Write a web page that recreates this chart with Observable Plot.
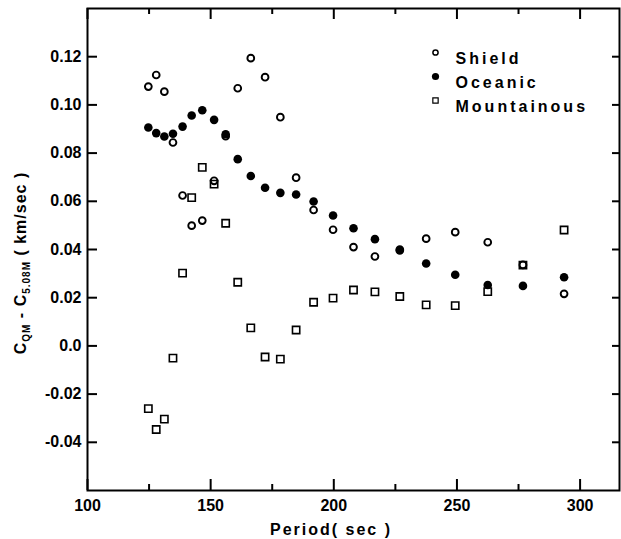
<!DOCTYPE html>
<html><head><meta charset="utf-8">
<script src="https://cdn.jsdelivr.net/npm/d3@7"></script>
<script src="https://cdn.jsdelivr.net/npm/@observablehq/plot@0.6"></script>
<style>
body{margin:0;background:#fff}
#chart{width:621px;height:539px}
#chart svg{background:#fff}
</style>
</head><body><div id="chart"></div>
<script>
// Period (sec) at which each regional difference was measured
const periods = [124.7, 127.9, 131.2, 134.7, 138.6, 142.3, 146.6, 151.4, 156.1, 161.0, 166.3, 172.1,
                 178.3, 184.7, 191.8, 199.7, 208.0, 216.7, 226.8, 237.5, 249.3, 262.5, 276.8, 293.5];
// C_QM - C_5.08M (km/sec)
const shield = [0.1076, 0.1124, 0.1055, 0.0844, 0.0624, 0.0499, 0.0520, 0.0685, 0.0870, 0.1069, 0.1194, 0.1115,
                0.0949, 0.0698, 0.0564, 0.0482, 0.0410, 0.0371, 0.0400, 0.0445, 0.0472, 0.0430, 0.0336, 0.0216];
const oceanic = [0.0906, 0.0883, 0.0869, 0.0880, 0.0910, 0.0956, 0.0978, 0.0938, 0.0878, 0.0775, 0.0705, 0.0656,
                 0.0635, 0.0628, 0.0599, 0.0541, 0.0488, 0.0443, 0.0396, 0.0342, 0.0295, 0.0253, 0.0249, 0.0285];
const mountainous = [-0.0260, -0.0347, -0.0304, -0.0051, 0.0302, 0.0615, 0.0741, 0.0671, 0.0509, 0.0264, 0.0075, -0.0046,
                     -0.0055, 0.0066, 0.0181, 0.0198, 0.0232, 0.0224, 0.0205, 0.0170, 0.0167, 0.0225, 0.0335, 0.0481];

const xMajor = [100, 150, 200, 250, 300];
const xMinor = [125, 175, 225, 275];
const yTicks = [-0.04, -0.02, 0, 0.02, 0.04, 0.06, 0.08, 0.10, 0.12];
const legendLabels = ["Shield", "Oceanic", "Mountainous"];
const xLabel = "Period( sec )";

const W = 621, H = 539, mL = 87, mT = 8, mR = 2, mB = 49;
const pw = W - mL - mR, ph = H - mT - mB;

const toRows = vals => periods.map((p, i) => ({p, v: vals[i]}));
const font = "Liberation Sans, Arial, sans-serif";

const legendMarks = [];
const legendStyles = [
  {symbol: "circle", r: 2.6, fill: "white", stroke: "black", strokeWidth: 1.5},
  {symbol: "circle", r: 3.6, fill: "black", stroke: "none"},
  {symbol: "square", r: 3.0, fill: "white", stroke: "black", strokeWidth: 1.2}
];
legendLabels.forEach((lab, i) => {
  legendMarks.push(Plot.dot([lab], {frameAnchor: "top-left", dx: 348, dy: 44 + 24 * i, ...legendStyles[i]}));
  legendMarks.push(Plot.text([lab], {text: d => d, frameAnchor: "top-left", dx: 368, dy: 44 + 24 * i,
    textAnchor: "start", fontSize: 16, fontWeight: "bold", fontFamily: font, fill: "black"}));
});

const chart = Plot.plot({
  width: W, height: H,
  marginLeft: mL, marginTop: mT, marginRight: mR, marginBottom: mB,
  style: {fontFamily: font, fontSize: "16px", fontWeight: "bold", color: "black", background: "white"},
  x: {domain: [100, 316]},
  y: {domain: [-0.06, 0.14]},
  marks: [
    Plot.frame({stroke: "black", strokeWidth: 2}),
    // inward ticks, bottom and top
    Plot.ruleX(xMajor, {x: d => d, insetTop: ph - 11, stroke: "black", strokeWidth: 2}),
    Plot.ruleX(xMinor, {x: d => d, insetTop: ph - 6, stroke: "black", strokeWidth: 2}),
    Plot.ruleX(xMajor, {x: d => d, insetBottom: ph - 11, stroke: "black", strokeWidth: 2}),
    Plot.ruleX(xMinor, {x: d => d, insetBottom: ph - 6, stroke: "black", strokeWidth: 2}),
    // inward ticks, left and right
    Plot.ruleY(yTicks, {y: d => d, insetRight: pw - 10, stroke: "black", strokeWidth: 2}),
    Plot.ruleY(yTicks, {y: d => d, insetLeft: pw - 7, stroke: "black", strokeWidth: 2}),
    Plot.axisX({ticks: xMajor, tickSize: 0, tickPadding: 9, tickFormat: d => String(d), label: null}),
    Plot.axisY({ticks: yTicks, tickSize: 0, tickPadding: 6, label: null,
      tickFormat: d => d === 0 ? "0.0" : d.toFixed(2)}),
    Plot.dot(toRows(mountainous), {x: "p", y: "v", symbol: "square", r: 4.1, fill: "none", stroke: "black", strokeWidth: 1.6}),
    Plot.dot(toRows(oceanic), {x: "p", y: "v", r: 4.3, fill: "black", stroke: "none"}),
    Plot.dot(toRows(shield), {x: "p", y: "v", r: 3.4, fill: "none", stroke: "black", strokeWidth: 1.9}),
    ...legendMarks
  ]
});
document.getElementById("chart").appendChild(chart);

const svg = d3.select(chart);
svg.selectAll("text").filter(function() { return legendLabels.includes(this.textContent); })
  .attr("letter-spacing", "3px").style("letter-spacing", "3px");

// x-axis title
svg.append("text").attr("x", 331).attr("y", 535).attr("text-anchor", "middle")
  .attr("font-family", font).attr("font-size", 16).attr("font-weight", "bold")
  .style("letter-spacing", "2px").text(xLabel);

// y-axis title with subscripts
const yl = svg.append("text").attr("transform", "translate(26,263) rotate(-90)")
  .attr("text-anchor", "middle").attr("font-family", font).attr("font-size", 16)
  .attr("font-weight", "bold").style("letter-spacing", "1px");
yl.append("tspan").text("C");
yl.append("tspan").attr("font-size", 10).attr("dy", 4).text("QM");
yl.append("tspan").attr("dy", -4).text(" - C");
yl.append("tspan").attr("font-size", 10).attr("dy", 4).text("5.08M");
yl.append("tspan").attr("dy", -4).text(" ( km/sec )");
</script>
</body></html>
